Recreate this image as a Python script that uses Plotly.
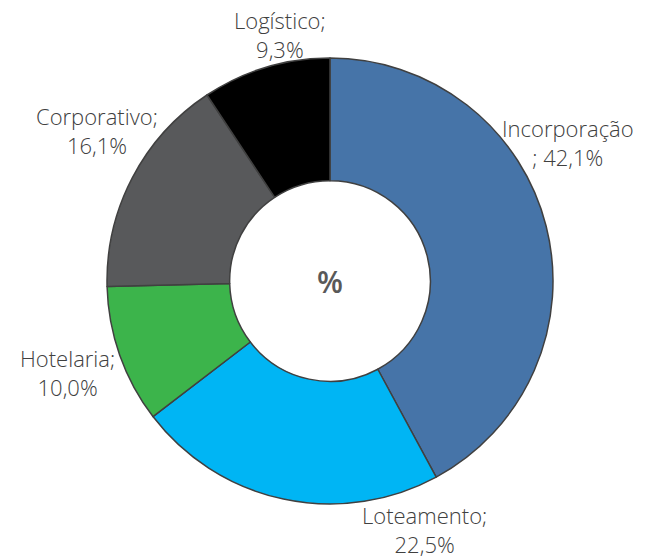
import plotly.graph_objects as go

# shares by segment (%)
segments = ["Incorporação", "Loteamento", "Hotelaria", "Corporativo", "Logístico"]
shares = [42.1, 22.5, 10.0, 16.1, 9.3]
colors = ["#4674a8", "#00b5f4", "#3cb44b", "#58595b", "#000000"]

W, H = 654, 558
cx, cy, r = 330, 281, 223

fig = go.Figure(go.Pie(
    labels=segments,
    values=shares,
    hole=0.45,
    sort=False,
    direction="clockwise",
    rotation=0,
    marker=dict(colors=colors, line=dict(color="#404040", width=1.5)),
    textinfo="none",
    hoverinfo="label+percent",
    showlegend=False,
    domain=dict(x=[(cx - r) / W, (cx + r) / W],
                y=[(H - cy - r) / H, (H - cy + r) / H]),
))

# label text, with line breaks as in the source chart
label_text = [
    "Incorporação<br>; {:.1f}%",
    "Loteamento;<br>{:.1f}%",
    "Hotelaria;<br>{:.1f}%",
    "Corporativo;<br>{:.1f}%",
    "Logístico;<br>{:.1f}%",
]
# label centres in pixels
label_pos = [(568, 143), (424, 529), (67, 372), (97, 130), (280, 34)]

for txt, v, (px_, py_) in zip(label_text, shares, label_pos):
    fig.add_annotation(
        x=px_ / W, y=1 - py_ / H, xref="paper", yref="paper",
        text=txt.format(v).replace(".", ","),
        showarrow=False, xanchor="center", yanchor="middle",
        font=dict(size=22, color="#404040", family="Open Sans", weight=300),
    )

fig.add_annotation(
    x=cx / W, y=1 - cy / H, xref="paper", yref="paper",
    text="%", showarrow=False,
    font=dict(size=30, color="#595959", family="Open Sans", weight=600),
)

fig.update_layout(
    width=W, height=H,
    margin=dict(l=0, r=0, t=0, b=0),
    paper_bgcolor="white",
    plot_bgcolor="white",
)

fig.write_html("out.html", config={"displayModeBar": False},
               post_script="document.body.style.margin='0';")
